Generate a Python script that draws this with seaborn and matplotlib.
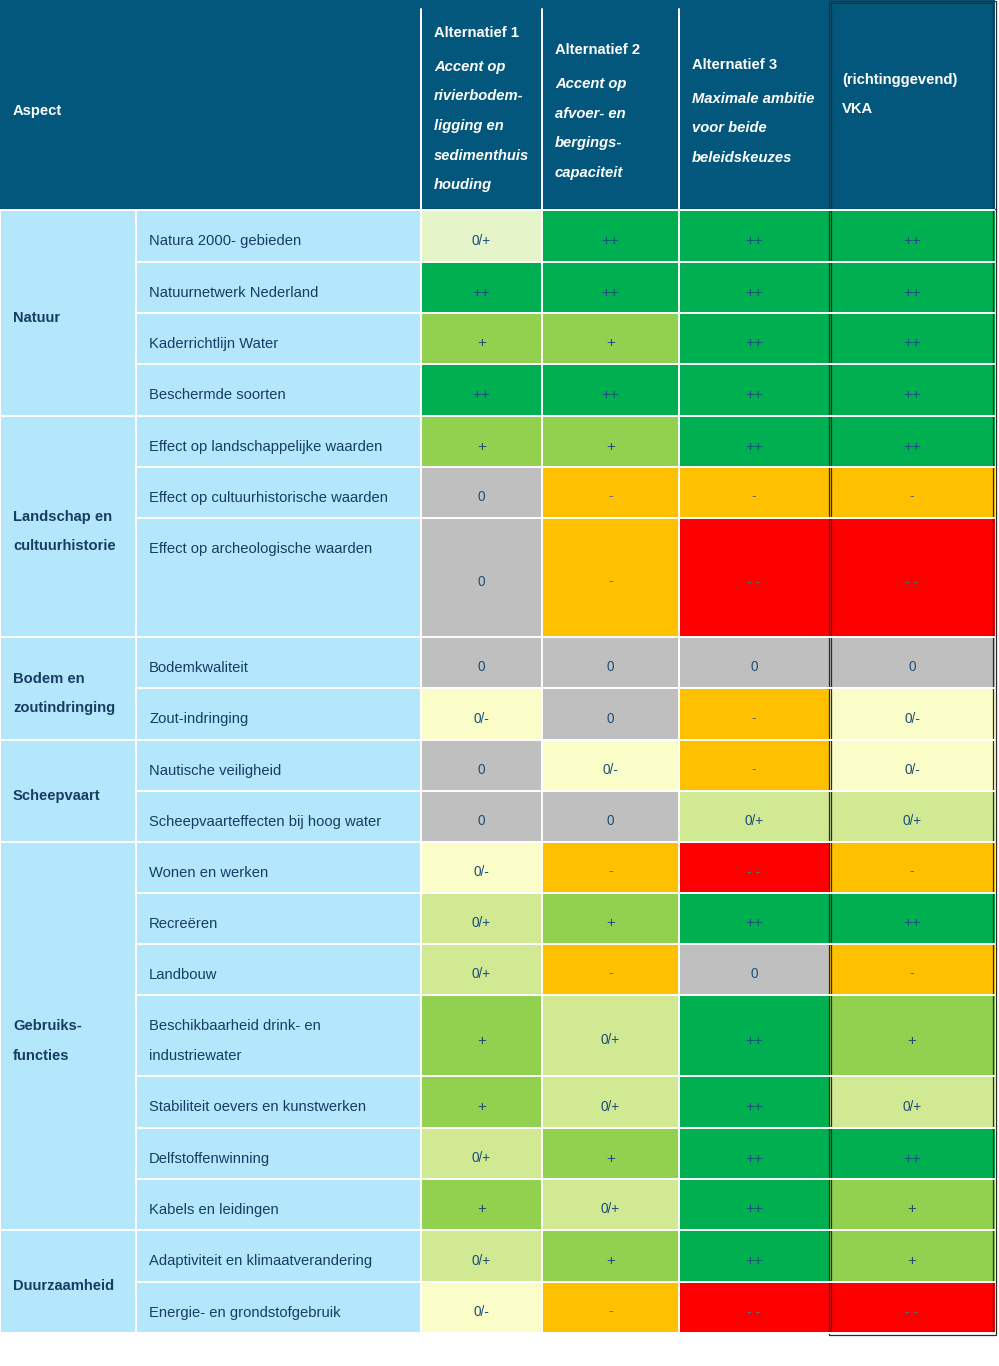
import numpy as np
import matplotlib
matplotlib.use("Agg")
import matplotlib.pyplot as plt
from matplotlib.colors import ListedColormap
from matplotlib.patches import Rectangle
import seaborn as sns

# ---------------- data ----------------
aspects = ["Natuur", "Landschap en\ncultuurhistorie", "Bodem en\nzoutindringing",
           "Scheepvaart", "Gebruiks-\nfuncties", "Duurzaamheid"]
aspect_sizes = [4, 3, 2, 2, 7, 2]

sub_aspects = [
    "Natura 2000- gebieden",
    "Natuurnetwerk Nederland",
    "Kaderrichtlijn Water",
    "Beschermde soorten",
    "Effect op landschappelijke waarden",
    "Effect op cultuurhistorische waarden",
    "Effect op archeologische waarden",
    "Bodemkwaliteit",
    "Zout-indringing",
    "Nautische veiligheid",
    "Scheepvaarteffecten bij hoog water",
    "Wonen en werken",
    "Recreëren",
    "Landbouw",
    "Beschikbaarheid drink- en\nindustriewater",
    "Stabiliteit oevers en kunstwerken",
    "Delfstoffenwinning",
    "Kabels en leidingen",
    "Adaptiviteit en klimaatverandering",
    "Energie- en grondstofgebruik",
]

alt1 = ["0/+", "++", "+", "++", "+", "0", "0", "0", "0/-", "0", "0", "0/-",
        "0/+", "0/+", "+", "+", "0/+", "+", "0/+", "0/-"]
alt2 = ["++", "++", "+", "++", "+", "-", "-", "0", "0", "0/-", "0", "-",
        "+", "-", "0/+", "0/+", "+", "0/+", "+", "-"]
alt3 = ["++", "++", "++", "++", "++", "-", "--", "0", "-", "-", "0/+", "--",
        "++", "0", "++", "++", "++", "++", "++", "--"]
vka = ["++", "++", "++", "++", "++", "-", "--", "0", "0/-", "0/-", "0/+", "-",
       "++", "-", "+", "0/+", "++", "+", "+", "--"]

header_aspect = "Aspect"
header_titles = ["Alternatief 1", "Alternatief 2", "Alternatief 3", "(richtinggevend)"]
header_subs = [
    ["Accent op", "rivierbodem-", "ligging en", "sedimenthuis", "houding"],
    ["Accent op", "afvoer- en", "bergings-", "capaciteit"],
    ["Maximale ambitie", "voor beide", "beleidskeuzes"],
    ["VKA"],
]

# ---------------- layout / style ----------------
W, H = 999, 1366
col_edges = [0, 136, 421, 542, 679, 829, 995]
header_bottom = 210
row_px = [52, 51, 51, 52, 51, 51, 119, 51, 52, 51, 51, 51, 51, 51, 81, 52, 51, 51, 52, 51]
row_edges = np.concatenate([[header_bottom], header_bottom + np.cumsum(row_px)])
table_bottom = row_edges[-1]

header_top_y = [32, 49, 64, 79]
header_sub_italic = [True, True, True, False]

C_HEADER = "#03577c"
C_LABEL = "#b4e6fc"
C_TEXT = "#173d63"
C_VAL = "#1d4f7a"

score_order = ["--", "-", "0/-", "0", "0/+", "+", "++", "0/+ pale"]
score_colors = ["#ff0000", "#ffc000", "#fbfdc8", "#bfbfbf", "#d0e992",
                "#92d050", "#00b050", "#e5f4c9"]
pale_cells = {(0, 0)}  # (row, column) shown in a paler tint

FONT = ["Liberation Sans", "DejaVu Sans"]

sns.set_theme(style="white")
plt.rcParams["font.family"] = FONT

fig = plt.figure(figsize=(W / 100, H / 100), dpi=100)
fig.patch.set_facecolor("white")


def frac_rect(x0, y0, x1, y1):
    return [x0 / W, 1 - y1 / H, (x1 - x0) / W, (y1 - y0) / H]


# background: header and label cells
bg = fig.add_axes([0, 0, 1, 1], zorder=0)
bg.set_xlim(0, W)
bg.set_ylim(H, 0)
bg.axis("off")
bg.add_patch(Rectangle((0, 0), col_edges[-1], header_bottom, facecolor=C_HEADER, edgecolor="none"))
bg.add_patch(Rectangle((1, header_bottom), col_edges[2] - 1, table_bottom - header_bottom,
                       facecolor=C_LABEL, edgecolor="none"))

# value cells: one seaborn heatmap per alternative column
columns = [alt1, alt2, alt3, vka]
cmap = ListedColormap(score_colors)
for j, col in enumerate(columns):
    idx = []
    for i, s in enumerate(col):
        k = score_order.index(s)
        if (i, j) in pale_cells:
            k = score_order.index("0/+ pale")
        idx.append(k)
    mat = np.repeat(np.array(idx), row_px)[:, None]
    ax = fig.add_axes(frac_rect(col_edges[2 + j], header_bottom, col_edges[3 + j], table_bottom), zorder=1)
    sns.heatmap(mat, ax=ax, cmap=cmap, vmin=-0.5, vmax=len(score_colors) - 0.5,
                cbar=False, xticklabels=False, yticklabels=False, linewidths=0)
    ax.axis("off")

# overlay: separators and text
ov = fig.add_axes([0, 0, 1, 1], zorder=5)
ov.set_xlim(0, W)
ov.set_ylim(H, 0)
ov.axis("off")
ov.patch.set_alpha(0)

LW = 1.4
# header bottom line
ov.plot([0, col_edges[-1]], [header_bottom - 1.5, header_bottom - 1.5], color="#0d3f5e", lw=1.0)
# horizontal row separators
group_edges = np.concatenate([[0], np.cumsum(aspect_sizes)])
for r, y in enumerate(row_edges):
    x_start = 0 if r in group_edges else col_edges[1]
    ov.plot([x_start, col_edges[-1]], [y, y], color="white", lw=LW, solid_capstyle="butt")
# vertical separators
ov.plot([col_edges[1], col_edges[1]], [header_bottom, table_bottom], color="white", lw=LW)
for x in col_edges[2:5]:
    ov.plot([x, x], [9, table_bottom], color="white", lw=LW)

# VKA double border
x0, x1 = col_edges[5], col_edges[6]
ov.add_patch(Rectangle((x0 - 0.5, 0.5), x1 - x0 + 1, table_bottom + 1, fill=False,
                       edgecolor="#2b2b2b", lw=0.9))
ov.add_patch(Rectangle((x0 + 1.8, 2.8), x1 - x0 - 3.6, table_bottom - 3.6, fill=False,
                       edgecolor="#2b2b2b", lw=0.9))

BASE = 5  # baseline offset from visual centre

# header texts
ov.text(13, 110 + BASE, header_aspect, color="white", fontsize=10.6, fontweight="bold",
        va="baseline", ha="left")
for j in range(4):
    xl = col_edges[2 + j] + 13
    y = header_top_y[j]
    ov.text(xl, y + BASE, header_titles[j], color="white", fontsize=10.6, fontweight="bold",
            va="baseline", ha="left")
    y += 34 if header_sub_italic[j] else 29
    for line in header_subs[j]:
        ov.text(xl, y + BASE, line, color="white", fontsize=10.6, fontweight="bold",
                fontstyle="italic" if header_sub_italic[j] else "normal",
                va="baseline", ha="left")
        y += 29.5

# aspect group labels
for g, name in enumerate(aspects):
    top = row_edges[group_edges[g]]
    bot = row_edges[group_edges[g + 1]]
    lines = name.split("\n")
    c = (top + bot) / 2 + 4
    for k, line in enumerate(lines):
        yy = c + (k - (len(lines) - 1) / 2) * 29
        ov.text(13, yy + BASE, line, color=C_TEXT, fontsize=10.6, fontweight="bold",
                va="baseline", ha="left")

# sub-aspect labels
for i, name in enumerate(sub_aspects):
    for k, line in enumerate(name.split("\n")):
        yy = row_edges[i] + 30 + k * 30
        ov.text(col_edges[1] + 13, yy + BASE, line, color=C_TEXT, fontsize=10.6,
                va="baseline", ha="left")

# score texts
for j, col in enumerate(columns):
    xc = (col_edges[2 + j] + col_edges[3 + j]) / 2
    for i, s in enumerate(col):
        yc = (row_edges[i] + row_edges[i + 1]) / 2 + 4
        if s in ("-", "--"):
            txt = "-" if s == "-" else "- -"
            ov.text(xc, yc + 4, txt, color="#5d6b88", fontsize=10, va="baseline", ha="center")
        elif s in ("+", "++"):
            ov.text(xc, yc + 5, s, color=C_VAL, fontsize=11, va="baseline", ha="center")
        else:
            ov.text(xc, yc + 4.8, s, color=C_VAL, fontsize=9.8, va="baseline", ha="center")

fig.savefig("out.png", dpi=100, facecolor="white")
